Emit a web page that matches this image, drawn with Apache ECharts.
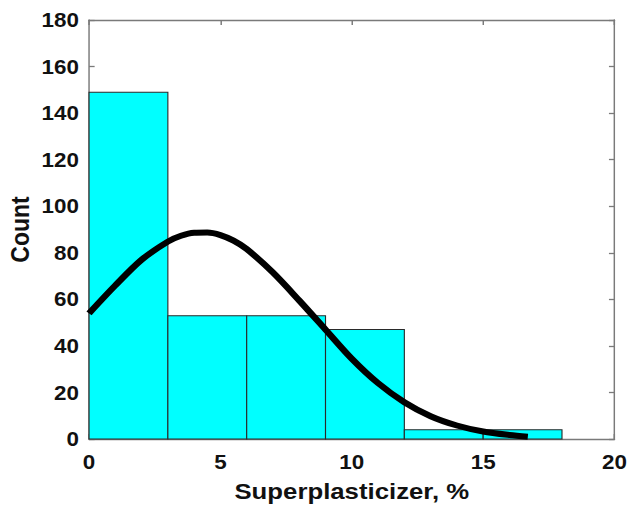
<!DOCTYPE html>
<html>
<head>
<meta charset="utf-8">
<script src="https://cdn.jsdelivr.net/npm/echarts@6/dist/echarts.min.js"></script>
<style>
  html, body { margin: 0; padding: 0; background: #fff; overflow: hidden; }
  /* the figure is laid out slightly narrower and widened to fill the window */
  #chart { width: 561px; height: 508px; transform: scaleX(1.12); transform-origin: 0 0; }
</style>
</head>
<body>
<div id="chart"></div>
<script>
// Histogram bins (left edges, common width) and their counts
const binStarts = [0, 3, 6, 9, 12, 15];
const binWidth = 3;
const counts = [149, 53, 53, 47, 4, 4];

// Fitted normal density curve, scaled to counts
const curveX = [0, 1, 2, 3, 3.5, 4, 4.5, 5, 5.5, 6, 7, 8, 9, 10, 11, 12, 13, 14, 15, 16, 16.7];
const curveY = [54, 66, 77, 84.8, 87.3, 88.6, 88.7, 87.6, 85.2, 81.6, 71.5, 59.5, 47, 34.5, 24, 15.8, 9.8, 5.8, 3.2, 1.7, 1.0];

const fontFamily = '"Liberation Sans", Arial, sans-serif';
const axisGray = '#7a7a7a';

const bars = binStarts.map((s, i) => [s, s + binWidth, counts[i]]);
const curve = curveX.map((x, i) => [x, curveY[i]]);

const chart = echarts.init(document.getElementById('chart'), null, { renderer: 'svg' });

const mirrorAxis = {
  axisLine: { show: true, onZero: false, lineStyle: { color: axisGray, width: 1.3 } },
  axisTick: { show: true, inside: true, length: 5, lineStyle: { color: axisGray, width: 1.3 } },
  axisLabel: { show: false },
  splitLine: { show: false }
};

chart.setOption({
  animation: false,
  backgroundColor: '#ffffff',
  grid: { left: 79.5, right: 12.3, top: 20, bottom: 69, containLabel: false, outerBoundsMode: 'none' },
  xAxis: [
    {
      type: 'value', min: 0, max: 20, interval: 5, position: 'bottom',
      name: 'Superplasticizer, %', nameLocation: 'middle', nameGap: 40,
      nameTextStyle: { fontFamily, fontSize: 23, fontWeight: 'bold', color: '#111' },
      axisLine: { show: true, onZero: false, lineStyle: { color: axisGray, width: 1.3 } },
      axisTick: { show: true, inside: true, length: 5, lineStyle: { color: axisGray, width: 1.3 } },
      axisLabel: { fontFamily, fontSize: 20, fontWeight: 'bold', color: '#111', margin: 13 },
      splitLine: { show: false }
    },
    Object.assign({ type: 'value', min: 0, max: 20, interval: 5, position: 'top' }, mirrorAxis)
  ],
  yAxis: [
    {
      type: 'value', min: 0, max: 180, interval: 20, position: 'left',
      name: 'Count', nameLocation: 'middle', nameGap: 50, nameRotate: 90, nameMoveOverlap: false,
      nameTextStyle: { fontFamily, fontSize: 23, fontWeight: 'bold', color: '#111' },
      axisLine: { show: true, onZero: false, lineStyle: { color: axisGray, width: 1.3 } },
      axisTick: { show: true, inside: true, length: 5, lineStyle: { color: axisGray, width: 1.3 } },
      axisLabel: { fontFamily, fontSize: 20, fontWeight: 'bold', color: '#111', margin: 9 },
      splitLine: { show: false }
    },
    Object.assign({ type: 'value', min: 0, max: 180, interval: 20, position: 'right' }, mirrorAxis)
  ],
  series: [
    {
      type: 'custom',
      xAxisIndex: 0, yAxisIndex: 0,
      data: bars,
      encode: { x: [0, 1], y: 2 },
      renderItem: function (params, api) {
        const topLeft = api.coord([api.value(0), api.value(2)]);
        const bottomRight = api.coord([api.value(1), 0]);
        return {
          type: 'rect',
          shape: {
            x: topLeft[0], y: topLeft[1],
            width: bottomRight[0] - topLeft[0],
            height: bottomRight[1] - topLeft[1]
          },
          style: { fill: '#00ffff', stroke: '#2a2a2a', lineWidth: 1 }
        };
      },
      z: 2
    },
    {
      type: 'line',
      xAxisIndex: 0, yAxisIndex: 0,
      data: curve,
      smooth: 0.3,
      showSymbol: false,
      lineStyle: { color: '#000000', width: 6, cap: 'butt', join: 'round' },
      z: 5
    }
  ]
});
</script>
</body>
</html>
